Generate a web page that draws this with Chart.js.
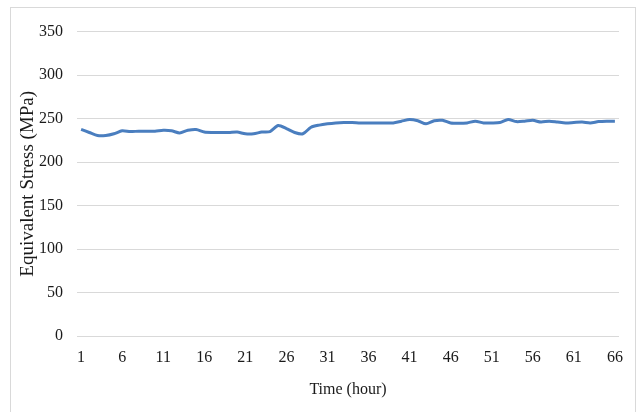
<!DOCTYPE html>
<html lang="en">

<head>
    <meta charset="UTF-8">
    <title>Equivalent Stress</title>
    <style>
        body {
            margin: 0;
            background: #fff;
        }

        #box {
            position: absolute;
            left: 10px;
            top: 7px;
            width: 624px;
            height: 405px;
            border: 1px solid #d9d9d9;
            border-bottom: none;
        }
    </style>
</head>

<body>
    <div id="box">
        <canvas id="myChart"></canvas>
    </div>

    <script src="https://cdn.jsdelivr.net/npm/chart.js"></script>

    <script>
        // time in hours
        var hours = [1, 2, 3, 4, 5, 6, 7, 8, 9, 10, 11, 12, 13, 14, 15, 16, 17, 18, 19, 20, 21, 22,
            23, 24, 25, 26, 27, 28, 29, 30, 31, 32, 33, 34, 35, 36, 37, 38, 39, 40, 41, 42, 43, 44,
            45, 46, 47, 48, 49, 50, 51, 52, 53, 54, 55, 56, 57, 58, 59, 60, 61, 62, 63, 64, 65, 66];

        // equivalent stress (MPa)
        var stress = [237.5, 234, 230.5, 230.5, 232.5, 236, 235, 235.5, 235.5, 235.5, 236.5,
            236, 233.5, 236.5, 237.5, 234.5, 234, 234, 234, 234.5, 232.5, 232.5,
            234.5, 235, 242, 238.5, 234, 232.5, 240, 242.5, 244, 245, 245.5,
            245.5, 245, 245, 245, 245, 245, 247, 249, 247.5, 244, 247.5,
            248, 245, 244.5, 245, 247, 245, 245, 245.5, 249, 246.5, 247,
            248, 246, 247, 246, 245, 245.5, 246, 245, 246.5, 247, 247];

        var shownTicks = ['1', '6', '11', '16', '21', '26', '31', '36', '41', '46', '51', '56', '61', '66'];

        var serif = 'Liberation Serif, Times New Roman, serif';
        var textColor = '#1a1a1a';

        const ctx = document.getElementById('myChart');

        var myChart = new Chart(ctx, {
            type: 'line',
            data: {
                labels: hours.map(String),
                datasets: [{
                    data: stress,
                    borderColor: '#4a7ebf',
                    borderWidth: 3,
                    pointRadius: 0,
                    tension: 0.25,
                    fill: false
                }]
            },
            options: {
                responsive: true,
                maintainAspectRatio: false,
                animation: false,
                layout: {
                    padding: { top: 22, right: 14, left: 0, bottom: 0 }
                },
                plugins: {
                    legend: { display: false },
                    tooltip: { enabled: false }
                },
                scales: {
                    x: {
                        offset: true,
                        grid: { display: false, drawTicks: false },
                        border: { display: false },
                        ticks: {
                            autoSkip: false,
                            maxRotation: 0,
                            padding: 12,
                            color: textColor,
                            font: { family: serif, size: 16 },
                            callback: function (val, i) {
                                var lab = this.getLabelForValue(val);
                                return shownTicks.indexOf(lab) >= 0 ? lab : '';
                            }
                        },
                        title: {
                            display: true,
                            text: 'Time (hour)',
                            color: textColor,
                            font: { family: serif, size: 16 },
                            padding: { top: 0, bottom: 14 }
                        },
                        afterFit: function (scale) {
                            scale.height = 77;
                        }
                    },
                    y: {
                        min: 0,
                        max: 350,
                        grid: { color: '#d9d9d9', lineWidth: 1, drawTicks: false },
                        border: { display: false },
                        ticks: {
                            stepSize: 50,
                            padding: 14,
                            color: textColor,
                            font: { family: serif, size: 16 }
                        },
                        title: {
                            display: true,
                            text: 'Equivalent Stress (MPa)',
                            color: textColor,
                            font: { family: serif, size: 19 },
                            padding: { top: 6, bottom: 0 }
                        },
                        afterFit: function (scale) {
                            scale.width = 66;
                        }
                    }
                }
            }
        });
    </script>

</body>

</html>
